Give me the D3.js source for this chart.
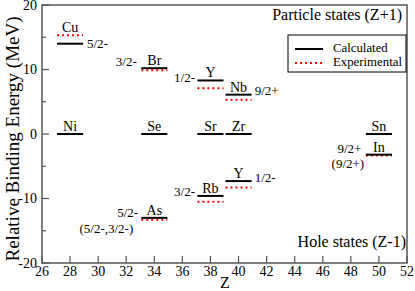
<!DOCTYPE html>
<html>
<head>
<meta charset="utf-8">
<script src="https://cdn.jsdelivr.net/npm/d3@7"></script>
<style>
  body { margin: 0; background: #fff; }
</style>
</head>
<body>
<svg id="chart" width="415" height="291"></svg>
<script>
// levels: one entry per nucleus (core Z where the bar sits)
var levelNames = ['Ni', 'Cu', 'Se', 'Br', 'As', 'Sr', 'Y', 'Rb', 'Zr', 'Nb', 'Y', 'Sn', 'In'];
var levelZ     = [28, 28, 34, 34, 34, 38, 38, 38, 40, 40, 40, 50, 50];
var calcE      = [0, 14, 0, 10.2, -13, 0, 8.3, -9.6, 0, 6.1, -7.3, 0, -3.2];
var expE       = [null, 15.3, null, 9.9, -13.3, null, 7.1, -10.5, null, 5.3, -8.3, null, -3.35];

// spin / parity labels, placed in data units (Z, MeV)
var spinText   = ['5/2-', '3/2-', '1/2-', '9/2+', '5/2-', '(5/2-,3/2-)', '3/2-', '1/2-', '9/2+', '(9/2+)'];
var spinZ      = [29.2, 32.75, 36.9, 41.15, 32.85, 32.5, 36.9, 41.15, 48.75, 48.95];
var spinE      = [13.95, 11.1, 8.65, 6.65, -12.3, -14.75, -9.0, -6.85, -2.35, -4.65];
var spinAnchor = ['start', 'end', 'end', 'start', 'end', 'end', 'end', 'start', 'end', 'end'];

var xTicks = d3.range(26, 53, 2);
var yTicks = [-20, -10, 0, 10, 20];
var yMinor = [-15, -5, 5, 15];

var font = "'Liberation Serif'";
var svg = d3.select('#chart');
var x = d3.scaleLinear().domain([26, 52]).range([42, 407]);
var y = d3.scaleLinear().domain([-20, 20]).range([263, 5]);
var half = 0.93;
var frameCol = '#555';

function txt(sel, size) {
    return sel.style('font-family', font).attr('font-size', size);
}

// frame
svg.append('rect')
    .attr('x', x(26)).attr('y', y(20))
    .attr('width', x(52) - x(26)).attr('height', y(-20) - y(20))
    .attr('fill', 'none').attr('stroke', frameCol).attr('stroke-width', 1.5);

// ticks
svg.append('g').selectAll('line').data(xTicks).join('line')
    .attr('x1', d => x(d)).attr('x2', d => x(d))
    .attr('y1', y(-20)).attr('y2', y(-20) - 7)
    .attr('stroke', frameCol).attr('stroke-width', 1.2);
txt(svg.append('g').selectAll('text').data(xTicks).join('text'), 14)
    .attr('x', d => x(d)).attr('y', 276)
    .attr('text-anchor', 'middle')
    .text(d => d);

svg.append('g').selectAll('line').data(yTicks).join('line')
    .attr('x1', x(26)).attr('x2', x(26) + 7)
    .attr('y1', d => y(d)).attr('y2', d => y(d))
    .attr('stroke', frameCol).attr('stroke-width', 1.2);
svg.append('g').selectAll('line').data(yMinor).join('line')
    .attr('x1', x(26)).attr('x2', x(26) + 4)
    .attr('y1', d => y(d)).attr('y2', d => y(d))
    .attr('stroke', frameCol).attr('stroke-width', 1.2);
txt(svg.append('g').selectAll('text').data(yTicks).join('text'), 14)
    .attr('x', 37).attr('y', d => y(d) + 4.5)
    .attr('text-anchor', 'end')
    .text(d => d);

// axis titles
txt(svg.append('text'), 19)
    .attr('transform', 'translate(19,139) rotate(-90)')
    .attr('text-anchor', 'middle')
    .text('Relative Binding Energy (MeV)');
txt(svg.append('text'), 16)
    .attr('x', 225).attr('y', 288)
    .attr('text-anchor', 'middle')
    .text('Z');

// levels
var idx = d3.range(levelNames.length);
svg.append('g').selectAll('line').data(idx.filter(i => expE[i] !== null)).join('line')
    .attr('x1', i => x(levelZ[i] - half)).attr('x2', i => x(levelZ[i] + half))
    .attr('y1', i => y(expE[i])).attr('y2', i => y(expE[i]))
    .attr('stroke', '#ff0000').attr('stroke-width', 2).attr('stroke-dasharray', '2,3');
svg.append('g').selectAll('line').data(idx).join('line')
    .attr('x1', i => x(levelZ[i] - half)).attr('x2', i => x(levelZ[i] + half))
    .attr('y1', i => y(calcE[i])).attr('y2', i => y(calcE[i]))
    .attr('stroke', '#000').attr('stroke-width', 2);
txt(svg.append('g').selectAll('text').data(idx).join('text'), 14)
    .attr('x', i => x(levelZ[i]))
    .attr('y', i => y(Math.max(calcE[i], expE[i] === null ? -99 : expE[i])) - 3)
    .attr('text-anchor', 'middle')
    .text(i => levelNames[i]);

// spin labels
txt(svg.append('g').selectAll('text').data(spinText).join('text'), 13)
    .attr('x', (d, i) => x(spinZ[i])).attr('y', (d, i) => y(spinE[i]) + 4)
    .attr('text-anchor', (d, i) => spinAnchor[i])
    .text(d => d);

// region notes
txt(svg.append('text'), 16).attr('x', 402).attr('y', 20).attr('text-anchor', 'end')
    .text('Particle states (Z+1)');
txt(svg.append('text'), 16).attr('x', 406).attr('y', 247).attr('text-anchor', 'end')
    .text('Hole states (Z-1)');

// legend
var lg = svg.append('g');
lg.append('rect').attr('x', 288).attr('y', 35).attr('width', 118).attr('height', 37)
    .attr('fill', '#fff').attr('stroke', '#000').attr('stroke-width', 1);
lg.append('line').attr('x1', 295).attr('x2', 323).attr('y1', 49).attr('y2', 49)
    .attr('stroke', '#000').attr('stroke-width', 2);
lg.append('line').attr('x1', 295).attr('x2', 323).attr('y1', 63).attr('y2', 63)
    .attr('stroke', '#ff0000').attr('stroke-width', 2).attr('stroke-dasharray', '2,3');
txt(lg.append('text'), 12.8).attr('x', 333).attr('y', 51.5).text('Calculated');
txt(lg.append('text'), 12.8).attr('x', 333).attr('y', 66).text('Experimental');
</script>
</body>
</html>
